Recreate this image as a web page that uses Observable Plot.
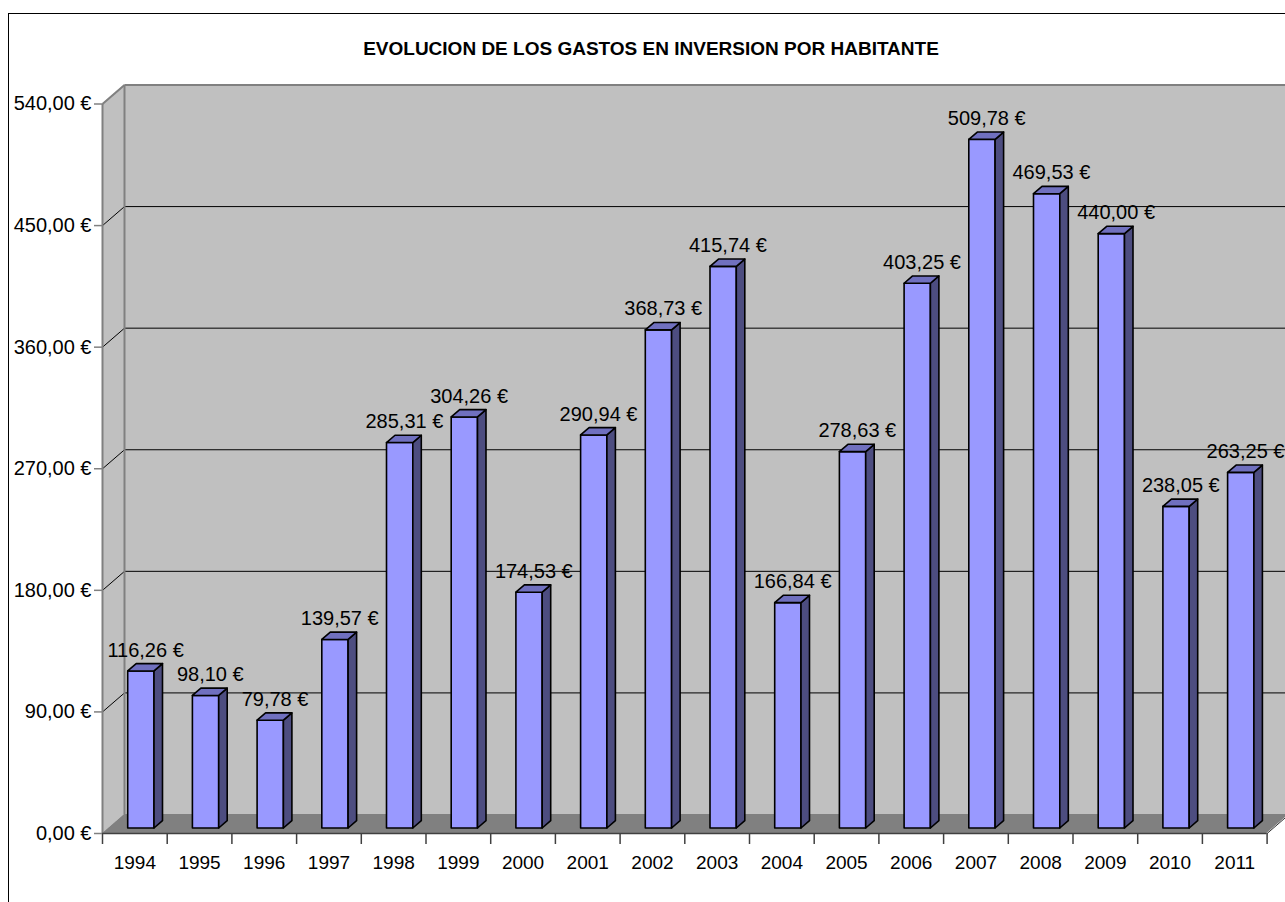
<!DOCTYPE html>
<html>
<head>
<meta charset="utf-8">
<script src="https://cdn.jsdelivr.net/npm/d3@7"></script>
<script src="https://cdn.jsdelivr.net/npm/@observablehq/plot@0.6"></script>
<style>
  html, body { margin: 0; padding: 0; background: #fff; }
  #wrap { position: relative; width: 1285px; height: 902px; overflow: hidden; font-family: "Liberation Sans", Arial, sans-serif; }
  #frame { position: absolute; left: 8px; top: 13px; width: 1400px; height: 1000px; border-left: 1.5px solid #000; border-top: 1.5px solid #000; }
  #title { position: absolute; left: 651px; top: 39px; transform: translateX(-50%); white-space: nowrap; font-weight: bold; font-size: 19px; line-height: 1; color: #000; }
  #chart { position: absolute; left: 0; top: 0; }
</style>
</head>
<body>
<div id="wrap">
  <div id="frame"></div>
  <div id="title">EVOLUCION DE LOS GASTOS EN INVERSION POR HABITANTE</div>
  <div id="chart"></div>
</div>
<script>
// ---- data ----
const years = [1994, 1995, 1996, 1997, 1998, 1999, 2000, 2001, 2002, 2003, 2004, 2005, 2006, 2007, 2008, 2009, 2010, 2011];
const values = [116.26, 98.10, 79.78, 139.57, 285.31, 304.26, 174.53, 290.94, 368.73, 415.74, 166.84, 278.63, 403.25, 509.78, 469.53, 440.00, 238.05, 263.25];
const yTicks = [0, 90, 180, 270, 360, 450, 540];

// ---- geometry (pixel sizes converted to data units) ----
const X0 = years[0] - 0.5, XE = years[years.length - 1] + 0.5;
const W = 1285, H = 902;
const ML = 102, MR = 18.4, MT = 103.5, MB = 69;
const PXX = (W - ML - MR) / (XE - X0);           // px per year
const PXY = (H - MT - MB) / 540;                  // px per euro
const DX = 22 / PXX, DY = 19 / PXY;               // wall depth
const BX = 6.5 / PXX, BY = 5 / PXY;               // bar front offset
const DDX = 8.5 / PXX, DDY = 7.3 / PXY;           // bar depth
const HW = 13.15 / PXX;                           // bar half width
const XR = XE + DX + 1;                           // far right of back wall

const fmt = v => v.toFixed(2).replace(".", ",") + " €";
const rows = years.map((y, i) => ({year: y, value: values[i]}));
const boundaries = d3.range(years.length + 1).map(i => X0 + i);
const gridVals = yTicks.filter(t => t > 0 && t < 540);

// polygons as areas
const leftWall = [{x: X0, y1: 0, y2: 540}, {x: X0 + DX, y1: DY, y2: 540 + DY}];
const floor = [
  {x: X0, y1: 0, y2: 0}, {x: X0 + DX, y1: 0, y2: DY},
  {x: XE, y1: 0, y2: DY}, {x: XE + DX, y1: DY, y2: DY}
];
const sidePts = rows.flatMap(r => {
  const b = r.year + HW + BX;
  return [
    {z: r.year, x: b, y1: BY, y2: r.value + BY},
    {z: r.year, x: b + DDX, y1: BY + DDY, y2: r.value + BY + DDY}
  ];
});
const topPts = rows.flatMap(r => {
  const a = r.year - HW + BX, b = r.year + HW + BX, v = r.value + BY;
  return [
    {z: r.year, x: a, y1: v, y2: v},
    {z: r.year, x: a + DDX, y1: v, y2: v + DDY},
    {z: r.year, x: b, y1: v, y2: v + DDY},
    {z: r.year, x: b + DDX, y1: v + DDY, y2: v + DDY}
  ];
});

const chart = Plot.plot({
  width: W, height: H,
  marginLeft: ML, marginRight: MR, marginTop: MT, marginBottom: MB,
  x: {type: "linear", domain: [X0, XE], axis: null},
  y: {type: "linear", domain: [0, 540], axis: null},
  style: {fontFamily: "'Liberation Sans', Arial, sans-serif", background: "transparent", overflow: "visible"},
  marks: [
    // walls
    Plot.areaY(leftWall, {x: "x", y1: "y1", y2: "y2", fill: "#c0c0c0", curve: "linear"}),
    Plot.rect([0], {x1: () => X0 + DX, x2: () => XR, y1: () => DY, y2: () => 540 + DY, fill: "#c0c0c0"}),
    Plot.areaY(floor, {x: "x", y1: "y1", y2: "y2", fill: "#808080", curve: "linear"}),
    // gridlines
    Plot.ruleY(gridVals, {y: t => t + DY, x1: () => X0 + DX, x2: () => XR, stroke: "#000", strokeWidth: 1}),
    Plot.link(gridVals, {x1: () => X0, y1: t => t, x2: () => X0 + DX, y2: t => t + DY, stroke: "#000", strokeWidth: 1}),
    // wall edges
    Plot.link([0], {x1: () => X0 + DX, y1: () => DY, x2: () => X0 + DX, y2: () => 540 + DY, stroke: "#808080", strokeWidth: 2}),
    Plot.link([0], {x1: () => X0, y1: () => 540, x2: () => X0 + DX, y2: () => 540 + DY, stroke: "#808080", strokeWidth: 2}),
    Plot.link([0], {x1: () => X0 + DX, y1: () => 540 + DY, x2: () => XR, y2: () => 540 + DY, stroke: "#808080", strokeWidth: 2}),
    Plot.link([0], {x1: () => X0, y1: () => 0, x2: () => X0, y2: () => 540, stroke: "#808080", strokeWidth: 2}),
    Plot.link([0], {x1: () => XE, y1: () => 0, x2: () => XE + DX, y2: () => DY, stroke: "#333", strokeWidth: 1}),
    // x axis line and ticks
    Plot.ruleY([0], {x1: () => X0, x2: () => XE, stroke: "#404040", strokeWidth: 1.5}),
    Plot.ruleX(boundaries, {x: d => d, y1: () => 0, y2: () => -11 / PXY, stroke: "#404040", strokeWidth: 1.5}),
    Plot.text(years, {x: d => d, y: () => 0, dy: 29, text: d => String(d), fontSize: 19, fill: "#000"}),
    // y axis ticks and labels
    Plot.ruleY(yTicks, {y: t => t, x1: () => X0 - 8 / PXX, x2: () => X0, stroke: "#808080", strokeWidth: 1.5}),
    Plot.text(yTicks, {x: () => X0, y: t => t, dx: -11, text: fmt, textAnchor: "end", fontSize: 20, fill: "#000"}),
    // bars: front, side, top
    Plot.rect(rows, {x1: r => r.year - HW + BX, x2: r => r.year + HW + BX, y1: () => BY, y2: r => r.value + BY,
      fill: "#9999ff", stroke: "#000", strokeWidth: 1.6, strokeLinejoin: "round"}),
    Plot.areaY(sidePts, {x: "x", y1: "y1", y2: "y2", z: "z", fill: "#4d4d80", stroke: "#000", strokeWidth: 1.6, strokeLinejoin: "round", curve: "linear"}),
    Plot.areaY(topPts, {x: "x", y1: "y1", y2: "y2", z: "z", fill: "#7070bf", stroke: "#000", strokeWidth: 1.6, strokeLinejoin: "round", curve: "linear"}),
    // value labels
    Plot.text(rows, {x: r => r.year + BX + DDX / 2, y: r => r.value + BY + DDY, dy: -14, text: r => fmt(r.value), fontSize: 20, fill: "#000"})
  ]
});
document.getElementById("chart").appendChild(chart);
</script>
</body>
</html>
